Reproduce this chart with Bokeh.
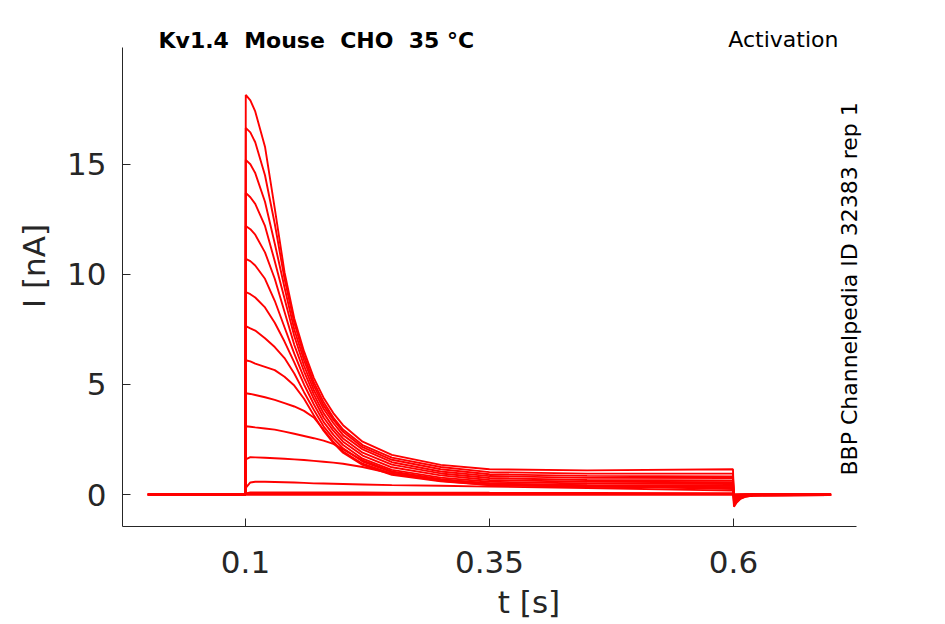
from bokeh.plotting import figure
from bokeh.models import Range1d, FixedTicker, Label
from bokeh.embed import file_html
from bokeh.resources import INLINE

# time samples [s]
t_s = [0.0, 0.0999, 0.1003, 0.105, 0.11, 0.12, 0.13, 0.14, 0.15, 0.16, 0.17, 0.18, 0.19,
       0.2, 0.22, 0.25, 0.3, 0.35, 0.45, 0.5995, 0.6005, 0.603, 0.607, 0.612, 0.62, 0.7]

# current traces [nA], one per voltage step
i_01 = [0.0, 0.0, 18.15, 17.9, 17.4, 15.8, 13.0, 10.1, 8.0, 6.5, 5.3, 4.4, 3.7, 3.15, 2.4, 1.8, 1.35, 1.15, 1.1, 1.15, -0.55, -0.38, -0.2, -0.1, -0.05, -0.02]
i_02 = [0.0, 0.0, 16.65, 16.45, 16.0, 14.5, 12.3, 9.8, 7.8, 6.3, 5.1, 4.2, 3.5, 2.95, 2.25, 1.68, 1.25, 1.02, 0.95, 0.95, -0.5, -0.34, -0.18, -0.09, -0.04, -0.02]
i_03 = [0.0, 0.0, 15.2, 15.0, 14.6, 13.3, 11.4, 9.4, 7.5, 6.1, 4.95, 4.05, 3.4, 2.85, 2.15, 1.58, 1.15, 0.92, 0.85, 0.82, -0.45, -0.3, -0.16, -0.08, -0.04, -0.02]
i_04 = [0.0, 0.0, 13.7, 13.5, 13.2, 12.2, 10.6, 8.9, 7.2, 5.85, 4.75, 3.9, 3.25, 2.7, 2.05, 1.47, 1.05, 0.84, 0.76, 0.75, -0.4, -0.27, -0.14, -0.07, -0.03, -0.02]
i_05 = [0.0, 0.0, 12.2, 12.05, 11.8, 11.0, 9.8, 8.3, 6.8, 5.6, 4.55, 3.7, 3.05, 2.55, 1.9, 1.36, 0.96, 0.75, 0.66, 0.64, -0.35, -0.24, -0.12, -0.06, -0.03, -0.01]
i_06 = [0.0, 0.0, 10.7, 10.6, 10.4, 9.8, 8.8, 7.6, 6.4, 5.3, 4.35, 3.5, 2.9, 2.4, 1.77, 1.24, 0.87, 0.66, 0.58, 0.56, -0.3, -0.2, -0.1, -0.05, -0.02, -0.01]
i_07 = [0.0, 0.0, 9.2, 9.1, 8.95, 8.5, 7.8, 6.95, 6.0, 5.0, 4.1, 3.3, 2.72, 2.25, 1.63, 1.12, 0.77, 0.58, 0.5, 0.48, -0.25, -0.17, -0.09, -0.04, -0.02, -0.01]
i_08 = [0.0, 0.0, 7.65, 7.55, 7.45, 7.1, 6.7, 6.2, 5.5, 4.65, 3.85, 3.1, 2.55, 2.1, 1.5, 1.02, 0.69, 0.5, 0.42, 0.4, -0.2, -0.14, -0.07, -0.03, -0.01, 0.0]
i_09 = [0.0, 0.0, 6.1, 6.05, 5.95, 5.8, 5.65, 5.35, 4.95, 4.35, 3.6, 2.9, 2.35, 1.9, 1.35, 0.9, 0.6, 0.43, 0.36, 0.33, -0.16, -0.11, -0.06, -0.03, -0.01, 0.0]
i_10 = [0.0, 0.0, 4.6, 4.57, 4.52, 4.42, 4.3, 4.15, 4.0, 3.8, 3.5, 2.95, 2.4, 1.95, 1.4, 0.95, 0.63, 0.43, 0.36, 0.33, -0.12, -0.08, -0.04, -0.02, -0.01, 0.0]
i_11 = [0.0, 0.0, 3.1, 3.08, 3.05, 3.0, 2.95, 2.86, 2.76, 2.66, 2.56, 2.45, 2.3, 2.05, 1.55, 1.05, 0.7, 0.46, 0.38, 0.3, -0.1, -0.06, -0.03, -0.01, 0.0, 0.0]
i_12 = [0.0, 0.0, 1.6, 1.7, 1.69, 1.67, 1.65, 1.63, 1.6, 1.57, 1.53, 1.49, 1.45, 1.4, 1.25, 0.95, 0.66, 0.5, 0.4, 0.25, -0.06, -0.04, -0.02, -0.01, 0.0, 0.0]
i_13 = [0.0, 0.0, 0.3, 0.55, 0.58, 0.58, 0.57, 0.56, 0.55, 0.53, 0.51, 0.5, 0.49, 0.48, 0.46, 0.43, 0.4, 0.36, 0.3, 0.18, -0.04, -0.03, -0.01, 0.0, 0.0, 0.0]
i_14 = [0.0, 0.0, 0.05, 0.1, 0.1, 0.1, 0.1, 0.1, 0.1, 0.1, 0.1, 0.1, 0.1, 0.1, 0.1, 0.09, 0.09, 0.08, 0.07, 0.06, -0.02, -0.01, 0.0, 0.0, 0.0, 0.0]
i_15 = [0.0, 0.0, 0.02, 0.03, 0.03, 0.03, 0.03, 0.03, 0.03, 0.03, 0.03, 0.03, 0.03, 0.03, 0.03, 0.03, 0.03, 0.03, 0.03, 0.03, 0.0, 0.0, 0.0, 0.0, 0.0, 0.0]
i_16 = [0.0, 0.0, -0.01, -0.01, -0.01, -0.01, -0.01, -0.01, -0.01, -0.01, -0.01, -0.01, -0.01, -0.01, -0.01, -0.01, -0.01, -0.01, -0.01, -0.01, 0.0, 0.0, 0.0, 0.0, 0.0, 0.0]
traces = [i_01, i_02, i_03, i_04, i_05, i_06, i_07, i_08, i_09, i_10, i_11, i_12, i_13, i_14, i_15, i_16]

x_ticks = [0.1, 0.35, 0.6]
y_ticks = [0, 5, 10, 15]
x_axis_span = (-0.026, 0.726)
y_axis_span = (-1.45, 20.3)

title_text = "Kv1.4\u00a0\u00a0Mouse\u00a0\u00a0CHO\u00a0\u00a035\u00a0\u00b0C"
protocol_text = "Activation"
source_text = "BBP Channelpedia ID 32383 rep 1"

FONT = "DejaVu Sans"
INK = "#262626"

# frame runs past the axes (up and right) so the annotations are not clipped;
# axis bounds keep the drawn spines where the original ones are
p = figure(width=940, height=623, output_backend="svg", toolbar_location=None,
           x_range=Range1d(-0.026, 0.807), y_range=Range1d(-1.45, 22.21),
           min_border_left=122, min_border_right=5, min_border_top=5, min_border_bottom=97,
           x_axis_label="t [s]", y_axis_label="I [nA]")
p.outline_line_color = None
p.grid.visible = False
p.background_fill_color = "white"
p.border_fill_color = "white"

for tr in traces:
    p.line(t_s, tr, line_color="#ff0000", line_width=1.9)

p.xaxis.ticker = FixedTicker(ticks=x_ticks)
p.yaxis.ticker = FixedTicker(ticks=y_ticks)
p.xaxis.bounds = x_axis_span
p.yaxis.bounds = y_axis_span
for ax in (p.xaxis[0], p.yaxis[0]):
    ax.axis_line_color = INK
    ax.axis_line_width = 1
    ax.major_tick_line_color = INK
    ax.major_tick_in = 8
    ax.major_tick_out = 0
    ax.minor_tick_line_color = None
    ax.major_label_text_font = FONT
    ax.major_label_text_font_size = "31px"
    ax.major_label_text_color = INK
    ax.axis_label_text_font = FONT
    ax.axis_label_text_font_size = "31px"
    ax.axis_label_text_font_style = "normal"
    ax.axis_label_text_color = INK
p.xaxis.major_label_standoff = 24
p.xaxis.axis_label_standoff = 8
p.yaxis.major_label_standoff = 16
p.yaxis.axis_label_standoff = 12

p.add_layout(Label(x=0.0109, y=20.6, text=title_text, text_font=FONT, text_font_size="22px",
                   text_font_style="bold", text_color="black", text_baseline="alphabetic"))
p.add_layout(Label(x=0.7076, y=20.65, text=protocol_text, text_font=FONT, text_font_size="22px",
                   text_color="black", text_align="right", text_baseline="alphabetic"))
p.add_layout(Label(x=0.719, y=0.864, text=source_text, text_font=FONT, text_font_size="22px",
                   text_color="black", angle=1.5708, text_align="left", text_baseline="alphabetic"))

open("out.html", "w").write(file_html(p, INLINE))
